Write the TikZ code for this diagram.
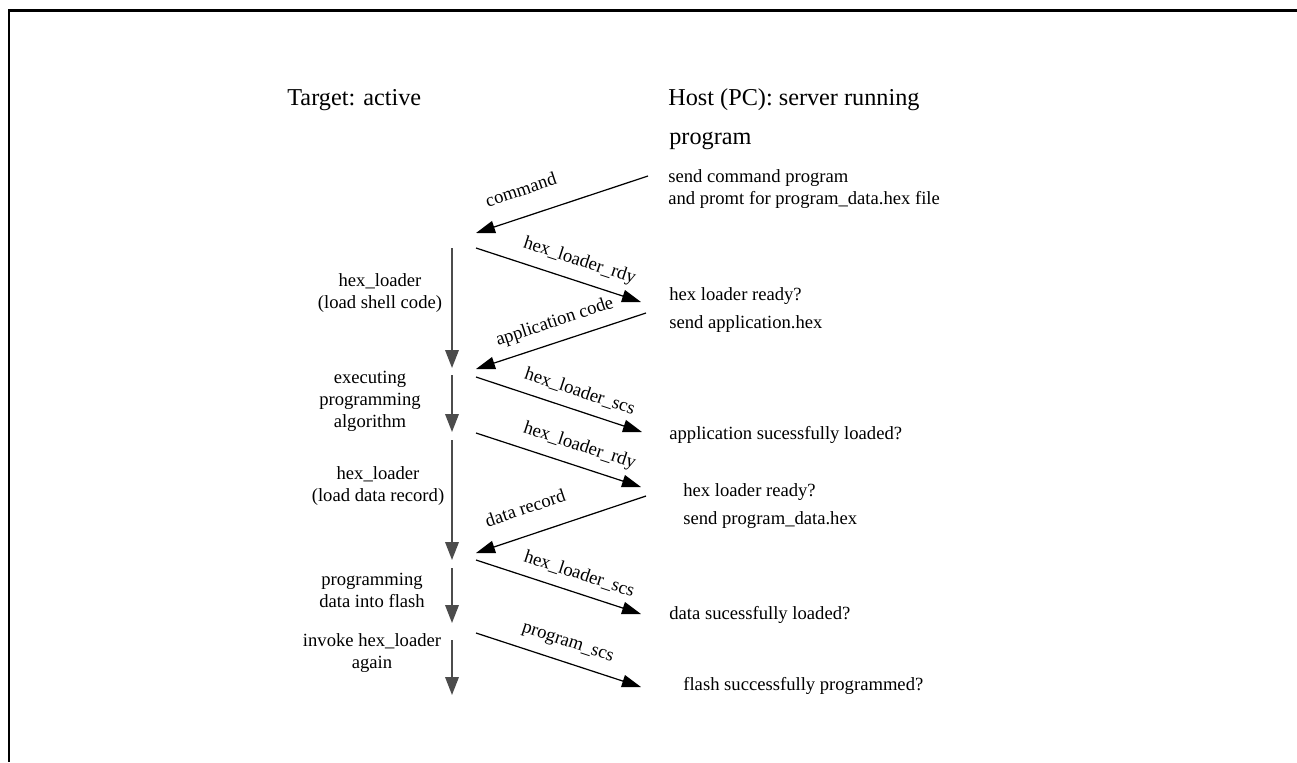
\documentclass[tikz,border=0pt]{standalone}
\usepackage{fontspec}
\setmainfont{Liberation Serif}
\usetikzlibrary{arrows.meta, positioning}
\tikzset{
    txt/.style={font=\fontsize{10.6}{12.5}\selectfont, inner sep=0pt},
    hdr/.style={font=\fontsize{13.8}{23.3}\selectfont, inner sep=0pt, anchor=west, align=left},
    stagetxt/.style={txt, align=center},
    hosttxt/.style={txt, anchor=west, align=left},
    flow/.style={-{Triangle[length=0.36cm, width=0.27cm]}, line width=1.1pt, black!70},
    msg/.style={-{Triangle[length=0.38cm, width=0.25cm]}, line width=0.7pt},
    msglbl/.style={txt, sloped, above=#1},
    msglbl/.default=6pt,
    frame/.style={line width=1.7pt},
}
\begin{document}
\begin{tikzpicture}[x=0.02cm, y=-0.02cm]
    \useasboundingbox (0,0) rectangle (1297,762);
    \draw[frame] (1297,10) -- (9,10) -- (9,762);

    % headers
    \node[hdr] (target) at (287,100) {Target: active};
    \node[hdr] (host) at (668,100) {Host (PC): server running};
    \node[hdr] (hostprog) at (669,141) {program};

    % target stages
    \node[stagetxt] (stage1) at (380,293) {hex\_loader\\(load shell code)};
    \node[stagetxt] (stage2) at (370,401) {executing\\programming\\algorithm};
    \node[stagetxt] (stage3) at (378,486) {hex\_loader\\(load data record)};
    \node[stagetxt] (stage4) at (372,590) {programming\\data into flash};
    \node[stagetxt] (stage5) at (372,653) {invoke hex\_loader\\again};

    % host actions
    \node[hosttxt] (act1) at (668,189) {send command program\\and promt for program\_data.hex file};
    \node[hosttxt] (act2) at (669,310) {hex loader ready?\\[3pt]send application.hex};
    \node[hosttxt] (act3) at (669,435) {application sucessfully loaded?};
    \node[hosttxt] (act4) at (683,506) {hex loader ready?\\[3pt]send program\_data.hex};
    \node[hosttxt] (act5) at (669,615) {data sucessfully loaded?};
    \node[hosttxt] (act6) at (683,686) {flash successfully programmed?};

    % time line of the target
    \coordinate (s1) at (452,248); \coordinate (e1) at (452,368);
    \coordinate (s2) at (452,375); \coordinate (e2) at (452,432);
    \coordinate (s3) at (452,440); \coordinate (e3) at (452,560);
    \coordinate (s4) at (452,568); \coordinate (e4) at (452,623);
    \coordinate (s5) at (452,640); \coordinate (e5) at (452,695);
    \draw[flow] (s1) -- (e1);
    \draw[flow] (s2) -- (e2);
    \draw[flow] (s3) -- (e3);
    \draw[flow] (s4) -- (e4);
    \draw[flow] (s5) -- (e5);

    % message ends
    \coordinate (h1) at (648,176); \coordinate (t1) at (476,233);
    \coordinate (t2) at (476,248); \coordinate (h2) at (641,302);
    \coordinate (h3) at (646,313); \coordinate (t3) at (476,369);
    \coordinate (t4) at (476,377); \coordinate (h4) at (642,432);
    \coordinate (t5) at (476,433); \coordinate (h5) at (641,487);
    \coordinate (h6) at (646,496); \coordinate (t6) at (476,553);
    \coordinate (t7) at (476,560); \coordinate (h7) at (641,614);
    \coordinate (t8) at (476,633); \coordinate (h8) at (641,687);

    \draw[msg] (h1) -- node[msglbl=11.4pt, pos=.69] {command} (t1);
    \draw[msg] (t2) -- node[msglbl, pos=.59] {hex\_loader\_rdy} (h2);
    \draw[msg] (h3) -- node[msglbl, pos=.5] {application code} (t3);
    \draw[msg] (t4) -- node[msglbl, pos=.59] {hex\_loader\_scs} (h4);
    \draw[msg] (t5) -- node[msglbl, pos=.59] {hex\_loader\_rdy} (h5);
    \draw[msg] (h6) -- node[msglbl=11.4pt, pos=.66] {data record} (t6);
    \draw[msg] (t7) -- node[msglbl, pos=.59] {hex\_loader\_scs} (h7);
    \draw[msg] (t8) -- node[msglbl, pos=.52] {program\_scs} (h8);
\end{tikzpicture}
\end{document}
